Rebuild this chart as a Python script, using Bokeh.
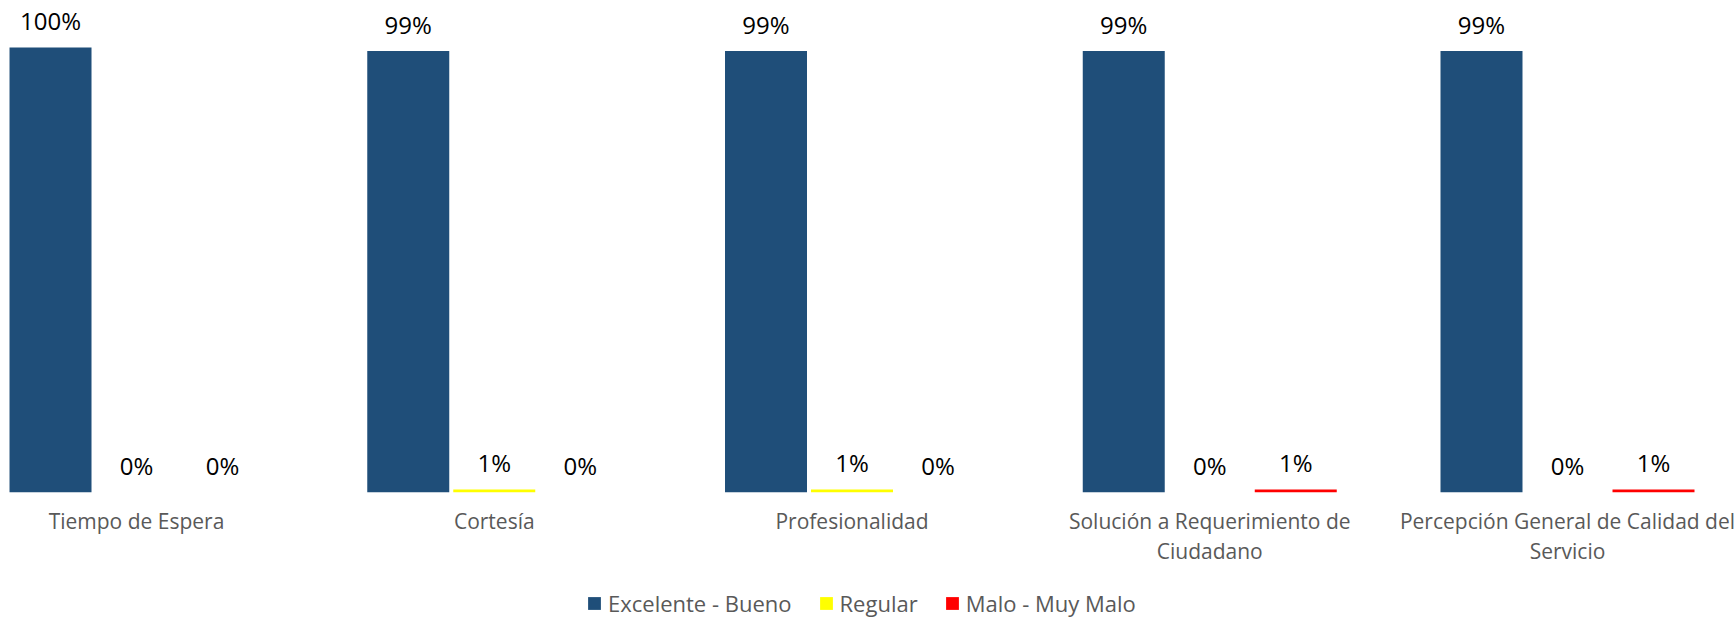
from bokeh.plotting import figure
from bokeh.models import ColumnDataSource, Legend, LegendItem, Range1d
from bokeh.core.properties import value
from bokeh.embed import file_html
from bokeh.resources import INLINE

# ---- data ----
categories = [
    "Tiempo de Espera",
    "Cortesía",
    "Profesionalidad",
    "Solución a Requerimiento de\nCiudadano",
    "Percepción General de Calidad del\nServicio",
]
series_names = ["Excelente - Bueno", "Regular", "Malo - Muy Malo"]
excelente = [1.00, 0.992, 0.992, 0.992, 0.992]
regular = [0.0, 0.006, 0.006, 0.0, 0.0]
malo = [0.0, 0.0, 0.0, 0.006, 0.006]
colors = ["#1F4E79", "#FFFF00", "#FF0000"]

FONT = "Open Sans"

p = figure(
    frame_width=1736, frame_height=618,
    output_backend="svg", toolbar_location=None,
    x_range=Range1d(-0.3802, 4.4724), y_range=Range1d(-0.284, 1.1057),
    min_border_left=0, min_border_right=0, min_border_top=0, min_border_bottom=0,
    outline_line_color=None,
)
p.background_fill_color = "white"
p.border_fill_color = "white"
p.grid.visible = False
p.axis.visible = False

offsets = [-0.2404, 0.0, 0.2404]
bar_w = 0.2292
renderers = []
for k, (vals, col) in enumerate(zip([excelente, regular, malo], colors)):
    xs = [i + offsets[k] for i in range(len(categories))]
    src = ColumnDataSource(dict(
        x=xs, top=vals,
        label=[f"{round(v * 100):.0f}%" for v in vals],
    ))
    r = p.vbar(x="x", top="top", bottom=0, width=bar_w, source=src,
               fill_color=col, line_color=None)
    renderers.append(r)
    p.text(x="x", y="top", text="label", source=src,
           text_align="center", text_baseline="alphabetic", y_offset=-27,
           text_font=value(FONT), text_font_size="24px", text_color="black")

# category labels under each group
cat_src = ColumnDataSource(dict(
    x=list(range(len(categories))), y=[0] * len(categories), text=categories,
))
p.text(x="x", y="y", text="text", source=cat_src,
       text_align="center", text_baseline="top", y_offset=15,
       text_font=value(FONT), text_font_size="21px", text_color="#595959",
       text_line_height=1.05)

legend = Legend(
    items=[LegendItem(label=n, renderers=[r]) for n, r in zip(series_names, renderers)],
    orientation="horizontal", location=(586, 0),
    label_text_font=FONT, label_text_font_size="22px", label_text_color="#595959",
    glyph_width=16, glyph_height=16, label_standoff=6, spacing=26,
    padding=0, margin=0, border_line_color=None, background_fill_alpha=0,
    label_height=20,
)
p.add_layout(legend, "center")

open("out.html", "w").write(file_html(p, INLINE))
